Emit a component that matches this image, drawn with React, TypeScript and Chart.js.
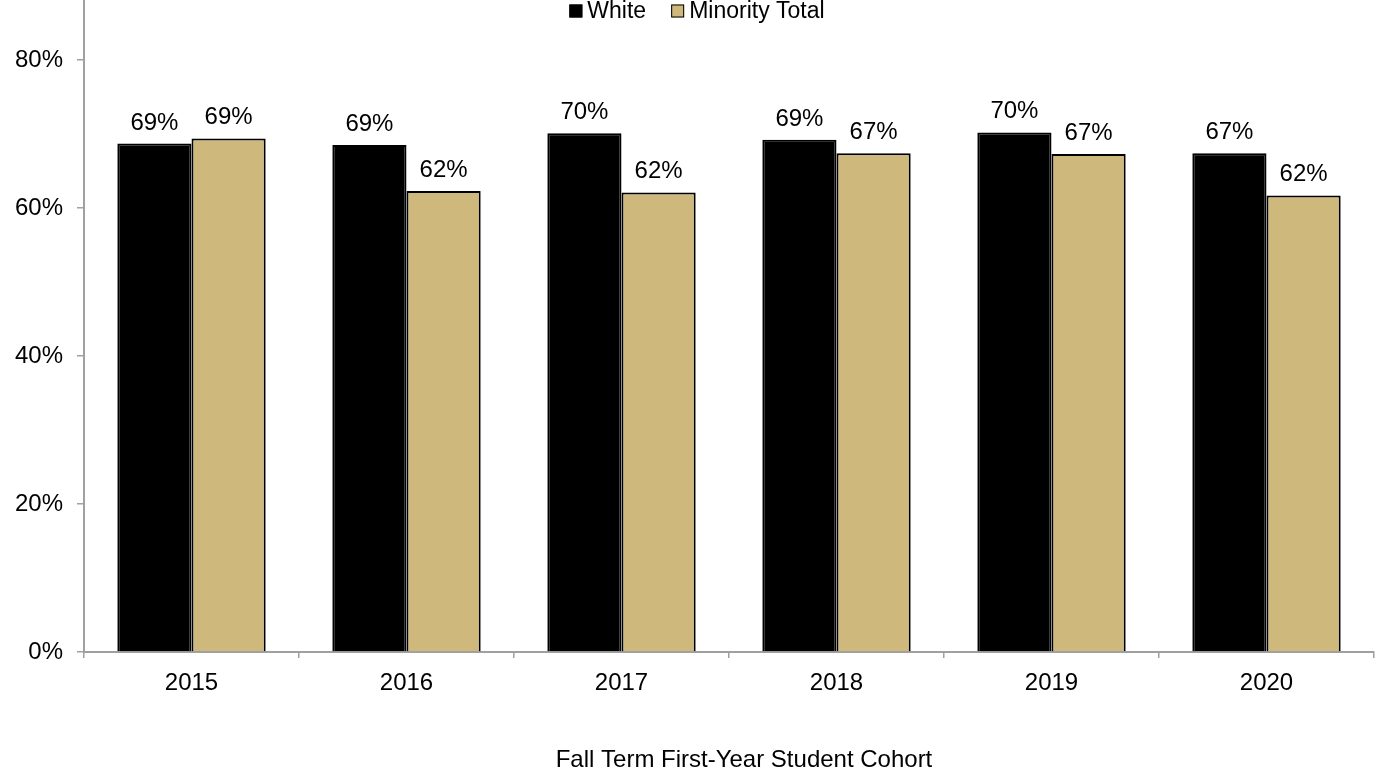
import React, { useEffect, useRef } from "react";
import { Chart, registerables } from "chart.js";

Chart.register(...registerables);

const categories = ["2015", "2016", "2017", "2018", "2019", "2020"];
const whiteValues = [68.7, 68.5, 70.1, 69.2, 70.2, 67.4];
const minorityValues = [69.4, 62.3, 62.1, 67.4, 67.3, 61.7];
const seriesNames = ["White", "Minority Total"];
const yTickValues = [0, 20, 40, 60, 80];
const xAxisTitle = "Fall Term First-Year Student Cohort";

const FONT = "'Liberation Sans', Arial, sans-serif";
const GOLD = "#cfb87c";
const AXIS = "#a0a0a0";

export default function App() {
  const ref = useRef<HTMLCanvasElement | null>(null);

  useEffect(() => {
    document.body.style.margin = "0";
    const canvas = ref.current;
    if (!canvas) return;

    const labelPlugin = {
      id: "labels",
      afterDatasetsDraw(chart: any) {
        const ctx = chart.ctx;
        ctx.save();
        ctx.font = `24px ${FONT}`;
        ctx.fillStyle = "#000";
        ctx.textAlign = "center";
        ctx.textBaseline = "alphabetic";
        chart.data.datasets.forEach((ds: any, di: number) => {
          const meta = chart.getDatasetMeta(di);
          meta.data.forEach((bar: any, i: number) => {
            const v = ds.data[i];
            ctx.fillText(`${Math.round(v)}%`, bar.x, bar.y - 14);
          });
        });
        // axis title
        ctx.textBaseline = "middle";
        ctx.fillText(xAxisTitle, 744, 760);
        // legend
        ctx.font = `23px ${FONT}`;
        ctx.textAlign = "left";
        ctx.textBaseline = "middle";
        const box = 13;
        const gapBoxText = 5;
        const gapItems = 25;
        const widths = seriesNames.map((n) => ctx.measureText(n).width);
        const total =
          widths.reduce((a: number, b: number) => a + b, 0) +
          seriesNames.length * (box + gapBoxText) +
          gapItems * (seriesNames.length - 1);
        let x = 697 - total / 2;
        const cy = 11;
        seriesNames.forEach((n, i) => {
          ctx.fillStyle = i === 0 ? "#000" : GOLD;
          ctx.fillRect(x, cy - box / 2, box, box);
          ctx.strokeStyle = "#000";
          ctx.lineWidth = 1;
          ctx.strokeRect(x + 0.5, cy - box / 2 + 0.5, box - 1, box - 1);
          x += box + gapBoxText;
          ctx.fillStyle = "#000";
          ctx.fillText(n, x, cy + 1);
          x += widths[i] + gapItems;
        });
        ctx.restore();
      },
    };

    const chart = new Chart(canvas, {
      type: "bar",
      data: {
        labels: categories,
        datasets: [
          {
            label: seriesNames[0],
            data: whiteValues,
            backgroundColor: "#000",
            borderColor: "#000",
            borderWidth: 2,
            categoryPercentage: 0.69,
            barPercentage: 1.0,
          },
          {
            label: seriesNames[1],
            data: minorityValues,
            backgroundColor: GOLD,
            borderColor: "#000",
            borderWidth: 2,
            categoryPercentage: 0.69,
            barPercentage: 1.0,
          },
        ],
      },
      plugins: [labelPlugin],
      options: {
        animation: false,
        responsive: false,
        maintainAspectRatio: false,
        devicePixelRatio: 1,
        layout: { padding: { left: 0, right: 2, top: 0, bottom: 0 } },
        plugins: {
          legend: { display: false },
          tooltip: { enabled: false },
        },
        scales: {
          x: {
            grid: {
              offset: true,
              drawOnChartArea: false,
              drawTicks: true,
              tickLength: 6,
              color: AXIS,
              lineWidth: 1.5,
            },
            border: { display: true, color: AXIS, width: 2 },
            ticks: {
              color: "#000",
              font: { family: FONT, size: 24 },
              padding: 11,
            },
            afterFit(scale: any) {
              scale.height = 120;
              scale.paddingLeft = 0;
              scale.paddingRight = 0;
            },
          },
          y: {
            min: 0,
            max: 88.1,
            grid: {
              drawOnChartArea: false,
              drawTicks: true,
              tickLength: 7,
              color: AXIS,
              lineWidth: 1.5,
            },
            border: { display: true, color: AXIS, width: 2 },
            ticks: {
              stepSize: 20,
              color: "#000",
              font: { family: FONT, size: 24 },
              padding: 14,
              callback: (v: any) => `${v}%`,
            },
            afterBuildTicks(scale: any) {
              scale.ticks = yTickValues.map((v) => ({ value: v }));
            },
            afterFit(scale: any) {
              scale.width = 84;
              scale.paddingTop = 0;
              scale.paddingBottom = 0;
            },
          },
        },
      },
    });
    return () => chart.destroy();
  }, []);

  return (
    <div style={{ width: 1376, height: 772 }}>
      <canvas ref={ref} width={1376} height={772} style={{ display: "block" }} />
    </div>
  );
}
